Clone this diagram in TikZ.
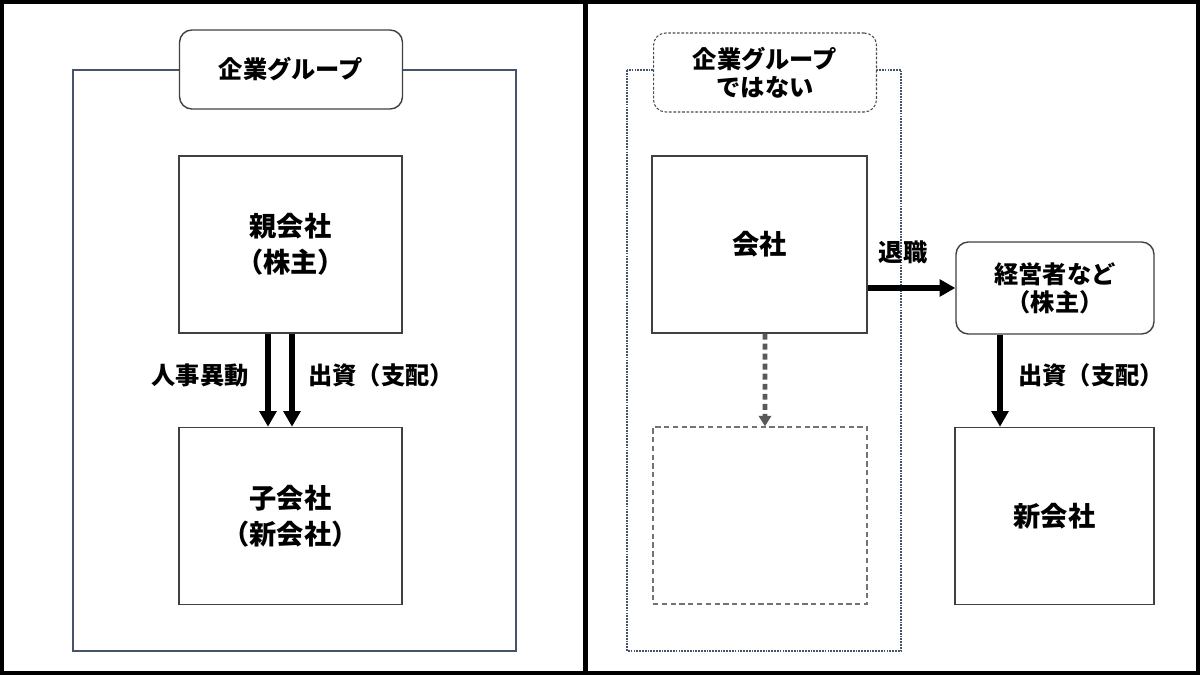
\documentclass[tikz,border=0pt]{standalone}
\usepackage{fontspec}
\setmainfont{Noto Sans CJK JP}
\usepackage{xcolor}
\usetikzlibrary{arrows.meta,calc}
\definecolor{grpcol}{HTML}{44546A}

\begin{document}
\begin{tikzpicture}[x=0.02cm,y=-0.02cm,
    box/.style={draw=black!75,line width=0.8pt,fill=white,inner sep=0pt,
      minimum width=4.46cm,minimum height=3.54cm,align=center,
      font=\fontsize{15.5}{20.5}\selectfont\bfseries},
    rbox/.style={box,rounded corners=7pt,minimum height=1.58cm,
      font=\fontsize{13.8}{16}\selectfont\bfseries},
    grp/.style={draw=grpcol,line width=0.6pt},
    lbl/.style={font=\fontsize{13.8}{16}\selectfont\bfseries,inner sep=0pt},
    arr/.style={line width=3.4pt,-{Triangle[length=9pt,width=9.5pt]}},
    garr/.style={draw=black!65,line width=2.8pt,dash pattern=on 3.4pt off 2.3pt,
      -{Triangle[length=6pt,width=7pt]}}]
      \useasboundingbox (0,0) rectangle (1200,675);%
      \draw[line width=2.3pt] (2,2) rectangle (1198,673);%
      \draw[line width=3pt] (585.5,0) -- (585.5,675);%

      % left: group
      \draw[grp] (73,70) rectangle (516,651);%
      \node[rbox] (grpA) at (291,69.5) {企業グループ};%
      \node[box] (parent) at (290.5,244.5) {親会社\\（株主）};%
      \node[box] (child) at (290.5,516) {子会社\\（新会社）};%
      \draw[arr] ($(parent.south)+(-22.5,0)$) -- ($(child.north)+(-22.5,0)$);%
      \draw[arr] ($(parent.south)+(1.5,0)$) -- ($(child.north)+(1.5,0)$);%
      \node[lbl] (moveL) at (200,375) {人事異動};%
      \node[lbl] (fundL) at (381,375) {出資（支配）};%

      % right: no group
      \draw[grp,dash pattern=on 1pt off 0.6pt] (627,70) rectangle (901,651);%
      \node[rbox,draw=black!70,line width=0.6pt,dash pattern=on 1.5pt off 1pt]
        (grpB) at (765,72.5) {企業グループ\\ではない};%
      \node[box,minimum width=4.3cm] (company) at (759.5,244.5) {会社};%
      \node[box,minimum width=4.28cm,draw=black!55,dash pattern=on 3pt off 2pt]
        (blank) at (760,515.5) {};%
      \node[rbox,minimum width=3.96cm,minimum height=1.84cm] (mgr) at (1055,288)
        {経営者など\\（株主）};%
      \node[box,minimum width=3.98cm] (newco) at (1054.5,516) {新会社};%
      \draw[garr] ($(company.south)+(5.5,0)$) -- ($(blank.north)+(5,0)$);%
      \draw[arr] (mgr.west -| company.east) -- (mgr.west);%
      \draw[arr] ($(mgr.south)+(-55,0)$) -- ($(newco.north)+(-54.5,0)$);%
      \node[lbl] (quitL) at (903,252) {退職};%
      \node[lbl] (fundR) at (1091,375) {出資（支配）};%
    \end{tikzpicture}
\end{document}
